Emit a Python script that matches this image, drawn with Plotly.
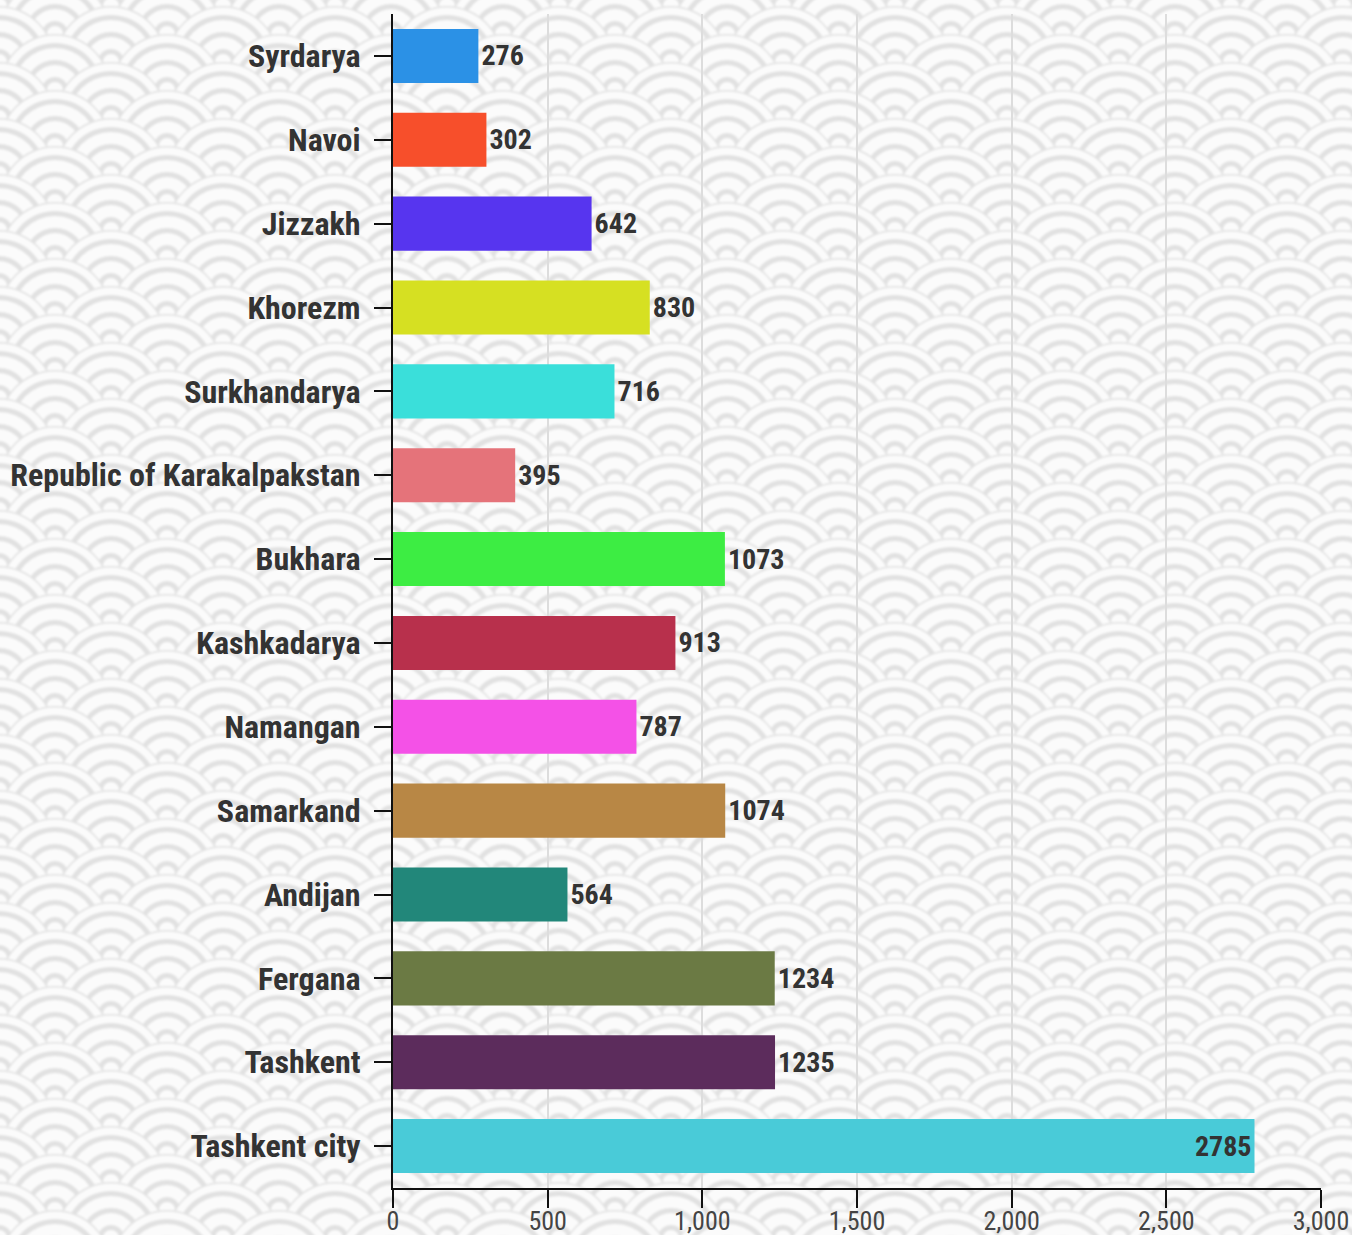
import base64
import plotly.graph_objects as go

# Regions, listed top to bottom as drawn
regions = [
    "Syrdarya", "Navoi", "Jizzakh", "Khorezm", "Surkhandarya",
    "Republic of Karakalpakstan", "Bukhara", "Kashkadarya", "Namangan",
    "Samarkand", "Andijan", "Fergana", "Tashkent", "Tashkent city",
]
counts = [276, 302, 642, 830, 716, 395, 1073, 913, 787, 1074, 564, 1234, 1235, 2785]
bar_colors = [
    "#2b91e6", "#f74f2b", "#5735ef", "#d6e022", "#3adfda",
    "#e5737a", "#3ded43", "#b8304c", "#f451e7",
    "#b88745", "#22877a", "#6b7a44", "#5c2c5c", "#49cbd8",
]
x_ticks = [0, 500, 1000, 1500, 2000, 2500, 3000]

W, H = 1352, 1235
ML, MR, MT, MB = 393, 31, 14, 47
PW, PH = W - ML - MR, H - MT - MB

FONT = "Roboto Condensed, Roboto, sans-serif"


def wave_background(width, height):
    """Seigaiha (overlapping wave arcs) background as an SVG data URI."""
    r = 56
    gray, white = "#e1e1e1", "#fbfbfb"
    rings = [(56, gray), (54.5, white), (47, gray), (42, white),
             (30, gray), (25, white), (13, gray), (8, white)]
    parts = [f'<svg xmlns="http://www.w3.org/2000/svg" xmlns:xlink="http://www.w3.org/1999/xlink" '
             f'width="{width}" height="{height}" viewBox="0 0 {width} {height}">',
             '<defs><g id="s">']
    for rad, col in rings:
        parts.append(f'<circle r="{rad}" fill="{col}"/>')
    parts.append('</g><filter id="b"><feGaussianBlur stdDeviation="1.2"/></filter></defs>')
    parts.append(f'<rect width="{width}" height="{height}" fill="{white}"/>')
    parts.append('<g filter="url(#b)">')
    k = -3
    y = 6 - 28 * 3
    while y < height + r + 28:
        xs = 55 if k % 2 else -1
        x = xs - 4 * r
        while x < width + r:
            parts.append(f'<use xlink:href="#s" x="{x}" y="{y}"/>')
            x += 2 * r
        k += 1
        y += 28
    parts.append('</g></svg>')
    svg = "".join(parts)
    return "data:image/svg+xml;base64," + base64.b64encode(svg.encode()).decode()


# the longest bar carries its value inside, the rest just past the bar end
text_pos = ["inside" if v == max(counts) else "outside" for v in counts]
label_font = dict(family=FONT, size=28, color="#333333", weight="bold")

fig = go.Figure(
    go.Bar(
        x=counts,
        y=regions,
        orientation="h",
        marker=dict(color=bar_colors, line=dict(width=0)),
        text=[str(v) for v in counts],
        textposition=text_pos,
        insidetextanchor="end",
        textfont=label_font,
        insidetextfont=label_font,
        outsidetextfont=label_font,
        constraintext="none",
        cliponaxis=False,
        hoverinfo="x+y",
    )
)

fig.update_layout(
    width=W,
    height=H,
    margin=dict(l=ML, r=MR, t=MT, b=MB, pad=0, autoexpand=False),
    paper_bgcolor="rgba(0,0,0,0)",
    plot_bgcolor="rgba(0,0,0,0)",
    bargap=0.355,
    showlegend=False,
    font=dict(family=FONT, color="#333333"),
    images=[dict(
        source=wave_background(W, H),
        xref="paper", yref="paper",
        x=-ML / PW, y=1 + MT / PH,
        sizex=W / PW, sizey=H / PH,
        xanchor="left", yanchor="top",
        sizing="stretch", layer="below",
    )],
    xaxis=dict(
        range=[0, 3000],
        tickvals=x_ticks,
        tickformat=",",
        showgrid=True,
        gridcolor="#dddddd",
        gridwidth=2,
        zeroline=False,
        showline=True,
        linecolor="#111111",
        linewidth=2,
        ticks="outside",
        ticklen=18,
        tickwidth=2,
        tickcolor="#111111",
        ticklabelstandoff=-9,
        tickfont=dict(size=26, color="#444444"),
        automargin=False,
        fixedrange=True,
    ),
    yaxis=dict(
        autorange="reversed",
        showgrid=False,
        zeroline=False,
        showline=True,
        linecolor="#111111",
        linewidth=2,
        ticks="outside",
        ticklen=17,
        tickwidth=2,
        tickcolor="#111111",
        ticklabelstandoff=7,
        tickfont=dict(size=32, color="#333333", weight="bold"),
        automargin=False,
        fixedrange=True,
    ),
)

fig.write_html("out.html")
